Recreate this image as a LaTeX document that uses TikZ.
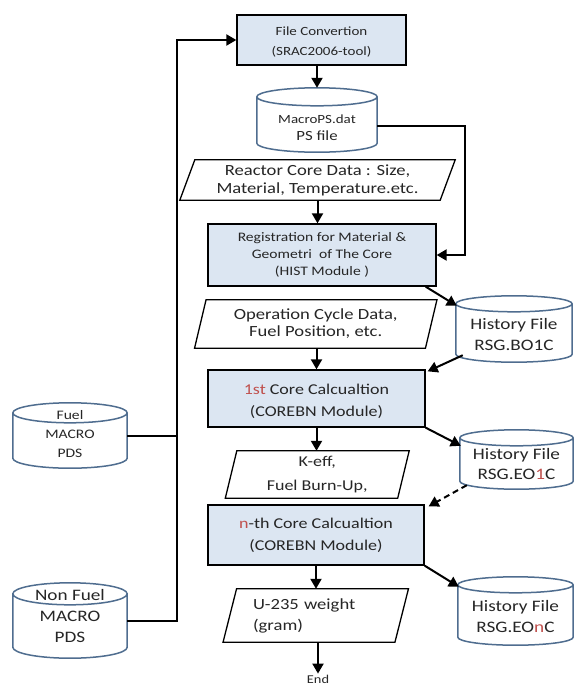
\documentclass[tikz,border=0pt]{standalone}
\usepackage{fontspec}
\setmainfont{Carlito}[FakeStretch=1.2]
\usetikzlibrary{arrows.meta,backgrounds,calc}
\definecolor{boxfill}{HTML}{DCE6F2}
\definecolor{cylblue}{HTML}{4F6D8F}
\definecolor{redtxt}{HTML}{C0504D}
\definecolor{txt}{HTML}{262626}
\newcommand\fs[2]{\fontsize{#1pt}{#2pt}\selectfont}
\newcommand\topstrut[1]{\rule{0pt}{#1}}
\newcommand\botstrut[1]{\rule[-#1]{0pt}{0pt}}
\newcommand\drawcyl[2]{%
  \draw[cylline] let \p1=(#1.north west), \p2=(#1.south east), \n1={(\x2-\x1)/2} in
    (\x1,\y1-#2pt) -- (\x1,\y2+#2pt)
    arc[start angle=180,end angle=360,x radius=\n1,y radius=#2pt]
    -- (\x2,\y1-#2pt)
    arc[start angle=0,end angle=180,x radius=\n1,y radius=#2pt] -- cycle
    (\x1,\y1-#2pt) arc[start angle=180,end angle=360,x radius=\n1,y radius=#2pt];}
\newcommand\drawpara[2]{%
  \draw[paraline] let \p1=(#1.north west), \p2=(#1.south east) in
    (\x1-#2pt,\y2) -- (\x2-#2pt,\y2) -- (\x2+#2pt,\y1) -- (\x1+#2pt,\y1) -- cycle;}
\begin{document}
\begin{tikzpicture}[x=1pt,y=1pt,
  proc/.style={rectangle,draw=black,fill=boxfill,line width=1.3pt,align=center,text=txt,inner sep=0pt},
  cylnode/.style={rectangle,inner sep=0pt,align=center,text=txt},
  paranode/.style={rectangle,inner sep=0pt,align=center,text=txt},
  cylline/.style={draw=cylblue,fill=white,line width=1.5pt},
  paraline/.style={draw=black,fill=white,line width=1.3pt},
  arr/.style={line width=2pt,-{Triangle[length=10pt,width=11pt]}},
  busline/.style={line width=2pt},
  dashedarr/.style={arr,dash pattern=on 6pt off 4pt}]
\useasboundingbox (0,0) rectangle (574,-686);

% process boxes
\node[proc,minimum width=169pt,minimum height=50pt,font=\fs{12.5}{20}] (fc) at (321.5,-40)
  {\topstrut{13pt}File Convertion\\(SRAC2006-tool)};
\node[proc,minimum width=228pt,minimum height=62pt,font=\fs{13}{17}] (reg) at (322,-255)
  {Registration for Material \&\\Geometri\ \ of The Core\\(HIST Module\ )};
\node[proc,minimum width=217pt,minimum height=57pt,font=\fs{15}{22}] (c1) at (316.5,-398.5)
  {\topstrut{16pt}\textcolor{redtxt}{1st} Core Calcualtion\\(COREBN Module)};
\node[proc,minimum width=216pt,minimum height=60pt,font=\fs{15}{22}] (cn) at (316,-535)
  {\textcolor{redtxt}{n}-th Core Calcualtion\\(COREBN Module)};

% data parallelograms
\node[paranode,minimum width=260pt,minimum height=40pt,font=\fs{15.5}{18}] (rc) at (317.5,-180)
  {Reactor Core Data : Size,\\Material, Temperature.etc.};
\node[paranode,minimum width=230.5pt,minimum height=48pt,font=\fs{15.5}{17}] (op) at (315.75,-324)
  {Operation Cycle Data,\\Fuel Position, etc.};
\node[paranode,minimum width=172pt,minimum height=47pt,font=\fs{15}{24}] (ke) at (317.25,-474.5)
  {K-eff,\\Fuel Burn-Up,};
\node[paranode,minimum width=171.5pt,minimum height=53pt,text width=125.5pt,align=left,font=\fs{15.5}{21}] (u) at (315.75,-615.5)
  {U-235 weight\\(gram)};

% cylinders
\node[cylnode,minimum width=120pt,minimum height=64pt,font=\fs{14}{17}] (mps) at (317,-120)
  {\topstrut{25pt}{\fs{12.5}{17}MacroPS.dat}\\PS file};
\node[cylnode,minimum width=116pt,minimum height=66pt,font=\fs{16}{21}] (h1) at (514,-329)
  {\topstrut{22pt}History File\\RSG.BO1C};
\node[cylnode,minimum width=113pt,minimum height=59pt,font=\fs{16}{20}] (h2) at (516.5,-459.5)
  {\topstrut{20pt}History File\\RSG.EO\textcolor{redtxt}{1}C};
\node[cylnode,minimum width=115pt,minimum height=68pt,font=\fs{16}{21}] (h3) at (515.5,-611)
  {\topstrut{22pt}History File\\RSG.EO\textcolor{redtxt}{n}C};
\node[cylnode,minimum width=114pt,minimum height=65pt,font=\fs{13}{19}] (fuel) at (70,-435.5)
  {Fuel\\MACRO\\PDS\botstrut{4pt}};
\node[cylnode,minimum width=114pt,minimum height=75pt,font=\fs{16}{21}] (nf) at (70,-620.5)
  {Non Fuel\\MACRO\\PDS\botstrut{9pt}};

\node[inner sep=1pt,text=txt,font=\fs{12}{14}] (endn) at (318,-679) {End};

\begin{scope}[on background layer]
  \drawcyl{mps}{9}
  \drawcyl{h1}{8}
  \drawcyl{h2}{8}
  \drawcyl{h3}{8}
  \drawcyl{fuel}{10}
  \drawcyl{nf}{11}
  \drawpara{rc}{7.5}
  \drawpara{op}{5.75}
  \drawpara{ke}{5.75}
  \drawpara{u}{6.75}
\end{scope}

% connectors
\coordinate (busb) at (177,-620.5);
\coordinate (rb) at (465,-255);
\draw[busline] (fuel.east) -- (fuel.east -| busb);
\draw[arr] (nf.east) -- (busb) |- (fc.west);
\draw[arr] (fc.south -| mps.north) -- (mps.north);
\draw[arr] ([yshift=-6pt]mps.east) -| (rb) -- (reg.east);
\draw[arr] (rc.south) -- (rc.south |- reg.north);
\draw[arr] ([xshift=-11pt]reg.south east) -- ([xshift=1pt,yshift=-10pt]h1.north west);
\draw[arr] (c1.north |- op.south) -- (c1.north);
\draw[arr] ([xshift=7pt,yshift=7pt]h1.south west) -- ([xshift=2pt,yshift=-2pt]c1.north east);
\draw[arr] (c1.south) -- (c1.south |- ke.north);
\draw[arr] (c1.south east) -- ([xshift=1pt,yshift=-16pt]h2.north west);
\draw[dashedarr] ([xshift=7pt,yshift=4pt]h2.south west) -- ([xshift=4pt,yshift=-2pt]cn.north east);
\draw[arr] (cn.south) -- (cn.south |- u.north);
\draw[arr] (cn.south east) -- ([xshift=1pt,yshift=-10pt]h3.north west);
\draw[arr] (endn.north |- u.south) -- (endn.north);
\end{tikzpicture}
\end{document}
